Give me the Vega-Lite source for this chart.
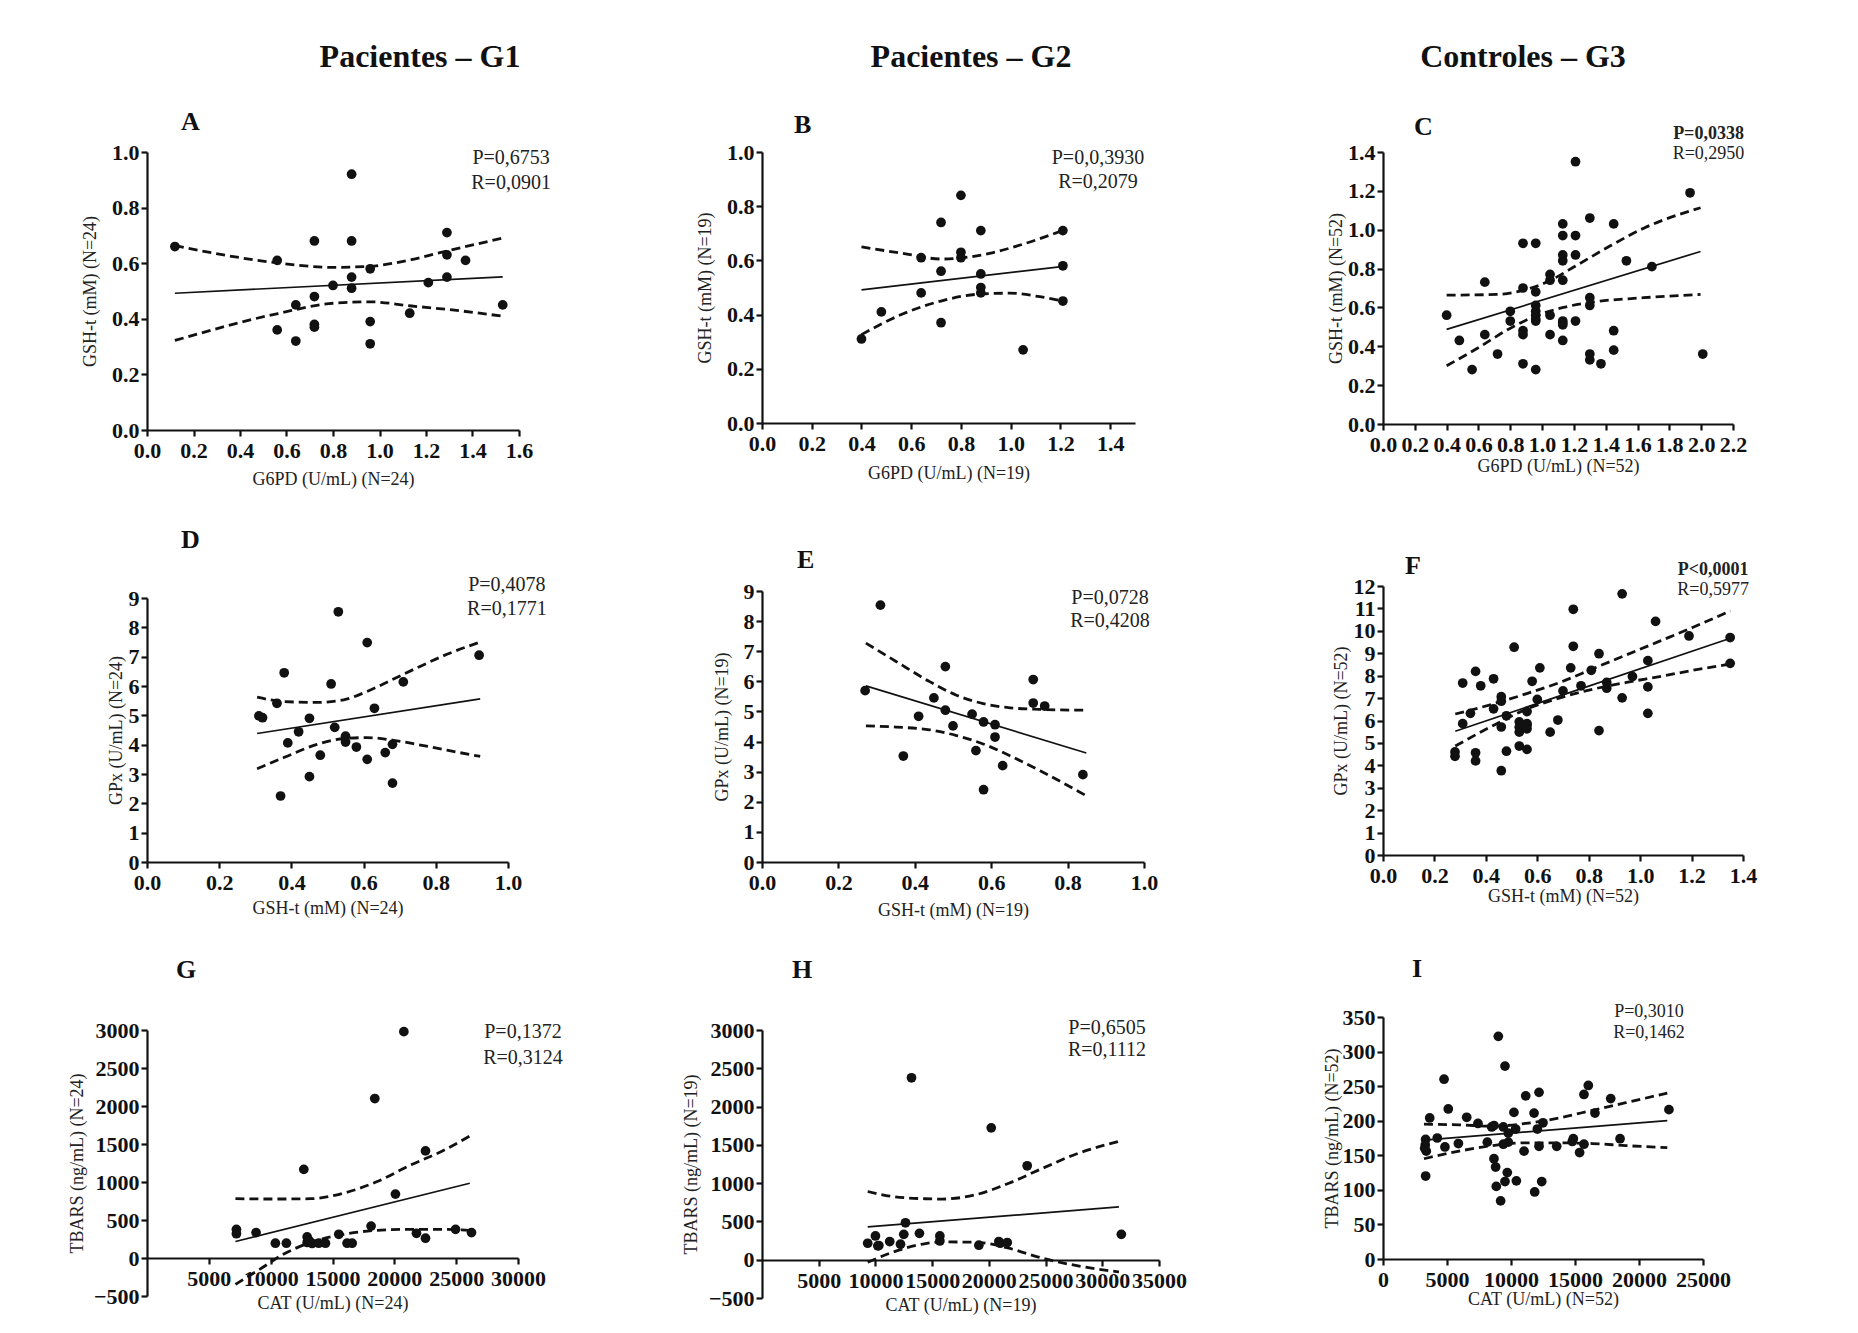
{
"$schema": "https://vega.github.io/schema/vega-lite/v6.json",
"background": "white",
"padding": {"top": 40, "left": 68, "right": 5, "bottom": 5},
"config": {
  "font": "Liberation Serif",
  "view": {"stroke": null},
  "axis": {"domainColor": "#111", "domainWidth": 2.2, "tickColor": "#111", "tickWidth": 2.2, "tickSize": 6,
    "labelFont": "Liberation Serif", "labelFontSize": 22, "labelFontWeight": "bold", "labelColor": "#111", "labelPadding": 2,
    "titleFont": "Liberation Serif", "titleFontSize": 18, "titleFontWeight": "normal", "titleColor": "#222",
    "grid": false, "labelOverlap": false, "labelFlush": false},
  "axisX": {"labelPadding": 4},
  "title": {"font": "Liberation Serif", "fontWeight": "bold", "color": "#111"},
  "text": {"font": "Liberation Serif", "color": "#222", "baseline": "middle", "align": "center"},
  "circle": {"size": 95, "color": "#111", "opacity": 1},
  "line": {"color": "#111"}
},
"datasets": {
  "fit": [
    {"p":"A","x":0.12,"y":0.492},{"p":"A","x":1.53,"y":0.551},
    {"p":"B","x":0.40,"y":0.491},{"p":"B","x":1.214,"y":0.578},
    {"p":"C","x":0.40,"y":0.487},{"p":"C","x":1.996,"y":0.888},
    {"p":"D","x":0.305,"y":4.38},{"p":"D","x":0.923,"y":5.56},
    {"p":"E","x":0.272,"y":5.85},{"p":"E","x":0.849,"y":3.62},
    {"p":"F","x":0.281,"y":5.52},{"p":"F","x":1.351,"y":9.67},
    {"p":"G","x":7150,"y":217},{"p":"G","x":26100,"y":984},
    {"p":"H","x":9320,"y":430},{"p":"H","x":31470,"y":689},
    {"p":"I","x":3200,"y":172},{"p":"I","x":22210,"y":200}
  ],
  "band": [
    {"p":"A","b":"u","x":0.12,"y":0.663},{"p":"A","b":"u","x":0.563,"y":0.601},{"p":"A","b":"u","x":0.80,"y":0.585},{"p":"A","b":"u","x":0.96,"y":0.589},{"p":"A","b":"u","x":1.138,"y":0.613},{"p":"A","b":"u","x":1.29,"y":0.644},{"p":"A","b":"u","x":1.533,"y":0.691},
    {"p":"A","b":"l","x":0.12,"y":0.322},{"p":"A","b":"l","x":0.563,"y":0.419},{"p":"A","b":"l","x":0.80,"y":0.456},{"p":"A","b":"l","x":0.96,"y":0.461},{"p":"A","b":"l","x":1.138,"y":0.446},{"p":"A","b":"l","x":1.29,"y":0.434},{"p":"A","b":"l","x":1.533,"y":0.409},
    {"p":"B","b":"u","x":0.40,"y":0.650},{"p":"B","b":"u","x":0.565,"y":0.626},{"p":"B","b":"u","x":0.723,"y":0.605},{"p":"B","b":"u","x":0.80,"y":0.609},{"p":"B","b":"u","x":0.915,"y":0.626},{"p":"B","b":"u","x":1.05,"y":0.660},{"p":"B","b":"u","x":1.214,"y":0.712},
    {"p":"B","b":"l","x":0.40,"y":0.326},{"p":"B","b":"l","x":0.565,"y":0.402},{"p":"B","b":"l","x":0.723,"y":0.451},{"p":"B","b":"l","x":0.88,"y":0.476},{"p":"B","b":"l","x":0.996,"y":0.479},{"p":"B","b":"l","x":1.117,"y":0.466},{"p":"B","b":"l","x":1.214,"y":0.449},
    {"p":"C","b":"u","x":0.40,"y":0.663},{"p":"C","b":"u","x":0.714,"y":0.667},{"p":"C","b":"u","x":0.882,"y":0.688},{"p":"C","b":"u","x":1.046,"y":0.737},{"p":"C","b":"u","x":1.218,"y":0.817},{"p":"C","b":"u","x":1.429,"y":0.917},{"p":"C","b":"u","x":1.639,"y":1.008},{"p":"C","b":"u","x":1.996,"y":1.113},
    {"p":"C","b":"l","x":0.40,"y":0.30},{"p":"C","b":"l","x":0.588,"y":0.387},{"p":"C","b":"l","x":0.798,"y":0.492},{"p":"C","b":"l","x":0.966,"y":0.558},{"p":"C","b":"l","x":1.134,"y":0.60},{"p":"C","b":"l","x":1.323,"y":0.628},{"p":"C","b":"l","x":1.639,"y":0.65},{"p":"C","b":"l","x":1.996,"y":0.667},
    {"p":"D","b":"u","x":0.305,"y":5.62},{"p":"D","b":"u","x":0.379,"y":5.47},{"p":"D","b":"u","x":0.471,"y":5.44},{"p":"D","b":"u","x":0.545,"y":5.53},{"p":"D","b":"u","x":0.609,"y":5.81},{"p":"D","b":"u","x":0.683,"y":6.24},{"p":"D","b":"u","x":0.748,"y":6.62},{"p":"D","b":"u","x":0.831,"y":7.08},{"p":"D","b":"u","x":0.923,"y":7.50},
    {"p":"D","b":"l","x":0.305,"y":3.18},{"p":"D","b":"l","x":0.379,"y":3.56},{"p":"D","b":"l","x":0.471,"y":4.01},{"p":"D","b":"l","x":0.545,"y":4.21},{"p":"D","b":"l","x":0.609,"y":4.24},{"p":"D","b":"l","x":0.683,"y":4.15},{"p":"D","b":"l","x":0.748,"y":4.01},{"p":"D","b":"l","x":0.831,"y":3.81},{"p":"D","b":"l","x":0.923,"y":3.60},
    {"p":"E","b":"u","x":0.272,"y":7.27},{"p":"E","b":"u","x":0.351,"y":6.66},{"p":"E","b":"u","x":0.439,"y":5.99},{"p":"E","b":"u","x":0.509,"y":5.54},{"p":"E","b":"u","x":0.579,"y":5.26},{"p":"E","b":"u","x":0.649,"y":5.12},{"p":"E","b":"u","x":0.728,"y":5.07},{"p":"E","b":"u","x":0.849,"y":5.04},
    {"p":"E","b":"l","x":0.272,"y":4.52},{"p":"E","b":"l","x":0.351,"y":4.48},{"p":"E","b":"l","x":0.439,"y":4.39},{"p":"E","b":"l","x":0.509,"y":4.20},{"p":"E","b":"l","x":0.579,"y":3.92},{"p":"E","b":"l","x":0.649,"y":3.53},{"p":"E","b":"l","x":0.728,"y":3.03},{"p":"E","b":"l","x":0.849,"y":2.20},
    {"p":"F","b":"u","x":0.281,"y":6.29},{"p":"F","b":"u","x":0.429,"y":6.74},{"p":"F","b":"u","x":0.559,"y":7.20},{"p":"F","b":"u","x":0.688,"y":7.70},{"p":"F","b":"u","x":0.818,"y":8.32},{"p":"F","b":"u","x":0.947,"y":8.93},{"p":"F","b":"u","x":1.076,"y":9.54},{"p":"F","b":"u","x":1.206,"y":10.16},{"p":"F","b":"u","x":1.351,"y":10.89},
    {"p":"F","b":"l","x":0.281,"y":4.86},{"p":"F","b":"l","x":0.429,"y":5.78},{"p":"F","b":"l","x":0.559,"y":6.51},{"p":"F","b":"l","x":0.688,"y":7.01},{"p":"F","b":"l","x":0.818,"y":7.40},{"p":"F","b":"l","x":0.947,"y":7.70},{"p":"F","b":"l","x":1.076,"y":7.96},{"p":"F","b":"l","x":1.206,"y":8.24},{"p":"F","b":"l","x":1.351,"y":8.52},
    {"p":"G","b":"u","x":7150,"y":780},{"p":"G","b":"u","x":10520,"y":776},{"p":"G","b":"u","x":13210,"y":780},{"p":"G","b":"u","x":15910,"y":854},{"p":"G","b":"u","x":18610,"y":1006},{"p":"G","b":"u","x":21300,"y":1222},{"p":"G","b":"u","x":24000,"y":1417},{"p":"G","b":"u","x":26100,"y":1604},
    {"p":"G","b":"l","x":7150,"y":-347},{"p":"G","b":"l","x":9170,"y":-143},{"p":"G","b":"l","x":11060,"y":52},{"p":"G","b":"l","x":13210,"y":204},{"p":"G","b":"l","x":15910,"y":312},{"p":"G","b":"l","x":18610,"y":364},{"p":"G","b":"l","x":21300,"y":377},{"p":"G","b":"l","x":24000,"y":377},{"p":"G","b":"l","x":26100,"y":364},
    {"p":"H","b":"u","x":9320,"y":891},{"p":"H","b":"u","x":11470,"y":826},{"p":"H","b":"u","x":14410,"y":796},{"p":"H","b":"u","x":15880,"y":792},{"p":"H","b":"u","x":18820,"y":848},{"p":"H","b":"u","x":21760,"y":999},{"p":"H","b":"u","x":24710,"y":1192},{"p":"H","b":"u","x":27650,"y":1378},{"p":"H","b":"u","x":31470,"y":1545},
    {"p":"H","b":"l","x":9320,"y":-34},{"p":"H","b":"l","x":11470,"y":95},{"p":"H","b":"l","x":14410,"y":211},{"p":"H","b":"l","x":15880,"y":232},{"p":"H","b":"l","x":18820,"y":228},{"p":"H","b":"l","x":21760,"y":150},{"p":"H","b":"l","x":24710,"y":20},{"p":"H","b":"l","x":27650,"y":-75},{"p":"H","b":"l","x":31470,"y":-160},
    {"p":"I","b":"u","x":3200,"y":195},{"p":"I","b":"u","x":5940,"y":194},{"p":"I","b":"u","x":8540,"y":192},{"p":"I","b":"u","x":11150,"y":196},{"p":"I","b":"u","x":13750,"y":204},{"p":"I","b":"u","x":16350,"y":215},{"p":"I","b":"u","x":18960,"y":226},{"p":"I","b":"u","x":22210,"y":240},
    {"p":"I","b":"l","x":3200,"y":145},{"p":"I","b":"l","x":5940,"y":156},{"p":"I","b":"l","x":8540,"y":164},{"p":"I","b":"l","x":11150,"y":168},{"p":"I","b":"l","x":13750,"y":168},{"p":"I","b":"l","x":16350,"y":167},{"p":"I","b":"l","x":18960,"y":164},{"p":"I","b":"l","x":22210,"y":161}
  ],
  "pts": [
    {"p":"A","x":0.12,"y":0.66},{"p":"A","x":0.56,"y":0.61},{"p":"A","x":0.56,"y":0.36},{"p":"A","x":0.64,"y":0.45},{"p":"A","x":0.64,"y":0.32},{"p":"A","x":0.72,"y":0.68},{"p":"A","x":0.72,"y":0.48},{"p":"A","x":0.72,"y":0.38},{"p":"A","x":0.72,"y":0.37},{"p":"A","x":0.80,"y":0.52},{"p":"A","x":0.88,"y":0.92},{"p":"A","x":0.88,"y":0.68},{"p":"A","x":0.88,"y":0.55},{"p":"A","x":0.88,"y":0.51},{"p":"A","x":0.96,"y":0.58},{"p":"A","x":0.96,"y":0.39},{"p":"A","x":0.96,"y":0.31},{"p":"A","x":1.13,"y":0.42},{"p":"A","x":1.21,"y":0.53},{"p":"A","x":1.29,"y":0.71},{"p":"A","x":1.29,"y":0.63},{"p":"A","x":1.29,"y":0.55},{"p":"A","x":1.37,"y":0.61},{"p":"A","x":1.53,"y":0.45},
    {"p":"B","x":0.40,"y":0.31},{"p":"B","x":0.48,"y":0.41},{"p":"B","x":0.64,"y":0.61},{"p":"B","x":0.64,"y":0.48},{"p":"B","x":0.72,"y":0.74},{"p":"B","x":0.72,"y":0.56},{"p":"B","x":0.72,"y":0.37},{"p":"B","x":0.80,"y":0.84},{"p":"B","x":0.80,"y":0.63},{"p":"B","x":0.80,"y":0.61},{"p":"B","x":0.88,"y":0.71},{"p":"B","x":0.88,"y":0.55},{"p":"B","x":0.88,"y":0.50},{"p":"B","x":0.88,"y":0.48},{"p":"B","x":1.05,"y":0.27},{"p":"B","x":1.21,"y":0.71},{"p":"B","x":1.21,"y":0.58},{"p":"B","x":1.21,"y":0.45},
    {"p":"C","x":0.40,"y":0.56},{"p":"C","x":0.48,"y":0.43},{"p":"C","x":0.56,"y":0.28},{"p":"C","x":0.64,"y":0.73},{"p":"C","x":0.64,"y":0.46},{"p":"C","x":0.72,"y":0.36},{"p":"C","x":0.80,"y":0.58},{"p":"C","x":0.80,"y":0.53},{"p":"C","x":0.88,"y":0.93},{"p":"C","x":0.88,"y":0.70},{"p":"C","x":0.88,"y":0.48},{"p":"C","x":0.88,"y":0.46},{"p":"C","x":0.88,"y":0.31},{"p":"C","x":0.96,"y":0.93},{"p":"C","x":0.96,"y":0.68},{"p":"C","x":0.96,"y":0.61},{"p":"C","x":0.96,"y":0.58},{"p":"C","x":0.96,"y":0.56},{"p":"C","x":0.96,"y":0.53},{"p":"C","x":0.96,"y":0.28},{"p":"C","x":1.05,"y":0.77},{"p":"C","x":1.05,"y":0.74},{"p":"C","x":1.05,"y":0.56},{"p":"C","x":1.05,"y":0.46},{"p":"C","x":1.13,"y":1.03},{"p":"C","x":1.13,"y":0.97},{"p":"C","x":1.13,"y":0.87},{"p":"C","x":1.13,"y":0.84},{"p":"C","x":1.13,"y":0.74},{"p":"C","x":1.13,"y":0.53},{"p":"C","x":1.13,"y":0.51},{"p":"C","x":1.13,"y":0.43},{"p":"C","x":1.21,"y":1.35},{"p":"C","x":1.21,"y":0.97},{"p":"C","x":1.21,"y":0.87},{"p":"C","x":1.21,"y":0.53},{"p":"C","x":1.30,"y":1.06},{"p":"C","x":1.30,"y":0.65},{"p":"C","x":1.30,"y":0.61},{"p":"C","x":1.30,"y":0.36},{"p":"C","x":1.30,"y":0.33},{"p":"C","x":1.37,"y":0.31},{"p":"C","x":1.45,"y":1.03},{"p":"C","x":1.45,"y":0.48},{"p":"C","x":1.45,"y":0.38},{"p":"C","x":1.53,"y":0.84},{"p":"C","x":1.69,"y":0.81},{"p":"C","x":1.93,"y":1.19},{"p":"C","x":2.01,"y":0.36},{"p":"C","x":0.96,"y":0.54},{"p":"C","x":1.13,"y":0.52},
    {"p":"D","x":0.31,"y":4.98},{"p":"D","x":0.32,"y":4.92},{"p":"D","x":0.36,"y":5.41},{"p":"D","x":0.38,"y":6.45},{"p":"D","x":0.37,"y":2.25},{"p":"D","x":0.39,"y":4.06},{"p":"D","x":0.42,"y":4.44},{"p":"D","x":0.45,"y":4.90},{"p":"D","x":0.45,"y":2.91},{"p":"D","x":0.48,"y":3.64},{"p":"D","x":0.51,"y":6.07},{"p":"D","x":0.52,"y":4.59},{"p":"D","x":0.53,"y":8.53},{"p":"D","x":0.55,"y":4.29},{"p":"D","x":0.55,"y":4.09},{"p":"D","x":0.58,"y":3.92},{"p":"D","x":0.61,"y":3.50},{"p":"D","x":0.61,"y":7.48},{"p":"D","x":0.63,"y":5.24},{"p":"D","x":0.66,"y":3.73},{"p":"D","x":0.68,"y":4.01},{"p":"D","x":0.68,"y":2.69},{"p":"D","x":0.71,"y":6.14},{"p":"D","x":0.92,"y":7.05},
    {"p":"E","x":0.27,"y":5.69},{"p":"E","x":0.31,"y":8.53},{"p":"E","x":0.37,"y":3.52},{"p":"E","x":0.41,"y":4.84},{"p":"E","x":0.45,"y":5.45},{"p":"E","x":0.48,"y":6.49},{"p":"E","x":0.48,"y":5.04},{"p":"E","x":0.50,"y":4.52},{"p":"E","x":0.55,"y":4.91},{"p":"E","x":0.56,"y":3.70},{"p":"E","x":0.58,"y":4.65},{"p":"E","x":0.58,"y":2.40},{"p":"E","x":0.61,"y":4.56},{"p":"E","x":0.61,"y":4.15},{"p":"E","x":0.63,"y":3.20},{"p":"E","x":0.71,"y":6.06},{"p":"E","x":0.71,"y":5.28},{"p":"E","x":0.74,"y":5.18},{"p":"E","x":0.84,"y":2.90},
    {"p":"F","x":0.28,"y":4.60},{"p":"F","x":0.28,"y":4.40},{"p":"F","x":0.31,"y":7.67},{"p":"F","x":0.31,"y":5.86},{"p":"F","x":0.34,"y":6.32},{"p":"F","x":0.36,"y":8.19},{"p":"F","x":0.36,"y":4.56},{"p":"F","x":0.36,"y":4.20},{"p":"F","x":0.38,"y":7.55},{"p":"F","x":0.43,"y":7.86},{"p":"F","x":0.43,"y":6.52},{"p":"F","x":0.46,"y":7.06},{"p":"F","x":0.46,"y":6.86},{"p":"F","x":0.46,"y":5.71},{"p":"F","x":0.46,"y":3.76},{"p":"F","x":0.48,"y":6.21},{"p":"F","x":0.48,"y":4.63},{"p":"F","x":0.51,"y":9.27},{"p":"F","x":0.53,"y":5.94},{"p":"F","x":0.53,"y":5.48},{"p":"F","x":0.53,"y":4.86},{"p":"F","x":0.56,"y":6.40},{"p":"F","x":0.56,"y":5.86},{"p":"F","x":0.56,"y":5.63},{"p":"F","x":0.56,"y":4.71},{"p":"F","x":0.58,"y":7.75},{"p":"F","x":0.60,"y":6.94},{"p":"F","x":0.61,"y":8.35},{"p":"F","x":0.65,"y":5.48},{"p":"F","x":0.68,"y":6.02},{"p":"F","x":0.70,"y":7.32},{"p":"F","x":0.73,"y":8.35},{"p":"F","x":0.74,"y":9.31},{"p":"F","x":0.74,"y":10.96},{"p":"F","x":0.77,"y":7.55},{"p":"F","x":0.81,"y":8.24},{"p":"F","x":0.84,"y":8.98},{"p":"F","x":0.84,"y":5.55},{"p":"F","x":0.87,"y":7.70},{"p":"F","x":0.87,"y":7.44},{"p":"F","x":0.93,"y":11.65},{"p":"F","x":0.93,"y":7.01},{"p":"F","x":0.97,"y":7.96},{"p":"F","x":1.03,"y":8.67},{"p":"F","x":1.03,"y":7.50},{"p":"F","x":1.03,"y":6.32},{"p":"F","x":1.06,"y":10.42},{"p":"F","x":1.19,"y":9.77},{"p":"F","x":1.35,"y":9.70},{"p":"F","x":1.35,"y":8.55},{"p":"F","x":0.53,"y":5.70},{"p":"F","x":0.56,"y":5.80},
    {"p":"G","x":7230,"y":377},{"p":"G","x":7230,"y":320},{"p":"G","x":8820,"y":334},{"p":"G","x":10380,"y":195},{"p":"G","x":11270,"y":195},{"p":"G","x":12680,"y":1166},{"p":"G","x":12950,"y":277},{"p":"G","x":12950,"y":204},{"p":"G","x":13350,"y":191},{"p":"G","x":13890,"y":195},{"p":"G","x":14430,"y":195},{"p":"G","x":15510,"y":312},{"p":"G","x":16180,"y":195},{"p":"G","x":16590,"y":195},{"p":"G","x":18120,"y":420},{"p":"G","x":18420,"y":2098},{"p":"G","x":20090,"y":841},{"p":"G","x":20770,"y":2978},{"p":"G","x":21790,"y":325},{"p":"G","x":22520,"y":260},{"p":"G","x":22520,"y":1409},{"p":"G","x":24950,"y":377},{"p":"G","x":26240,"y":334},{"p":"G","x":13100,"y":230},
    {"p":"H","x":9320,"y":215},{"p":"H","x":10000,"y":310},{"p":"H","x":10210,"y":181},{"p":"H","x":11260,"y":237},{"p":"H","x":12210,"y":202},{"p":"H","x":12500,"y":331},{"p":"H","x":12650,"y":482},{"p":"H","x":13180,"y":2376},{"p":"H","x":13880,"y":344},{"p":"H","x":15680,"y":310},{"p":"H","x":15680,"y":245},{"p":"H","x":19120,"y":189},{"p":"H","x":20210,"y":1722},{"p":"H","x":20880,"y":237},{"p":"H","x":21620,"y":224},{"p":"H","x":23380,"y":1227},{"p":"H","x":31680,"y":331},{"p":"H","x":21000,"y":215},{"p":"H","x":10300,"y":185},
    {"p":"I","x":3260,"y":160},{"p":"I","x":3330,"y":173},{"p":"I","x":3380,"y":156},{"p":"I","x":3330,"y":120},{"p":"I","x":3650,"y":204},{"p":"I","x":4240,"y":175},{"p":"I","x":4770,"y":260},{"p":"I","x":4840,"y":162},{"p":"I","x":5100,"y":217},{"p":"I","x":5890,"y":167},{"p":"I","x":6540,"y":205},{"p":"I","x":7420,"y":196},{"p":"I","x":8150,"y":169},{"p":"I","x":8490,"y":191},{"p":"I","x":8670,"y":193},{"p":"I","x":8670,"y":145},{"p":"I","x":8800,"y":133},{"p":"I","x":8850,"y":105},{"p":"I","x":9010,"y":322},{"p":"I","x":9190,"y":84},{"p":"I","x":9530,"y":279},{"p":"I","x":9530,"y":112},{"p":"I","x":9400,"y":191},{"p":"I","x":9710,"y":125},{"p":"I","x":9790,"y":182},{"p":"I","x":9790,"y":169},{"p":"I","x":9400,"y":166},{"p":"I","x":10230,"y":212},{"p":"I","x":10360,"y":188},{"p":"I","x":10420,"y":113},{"p":"I","x":11020,"y":156},{"p":"I","x":11150,"y":236},{"p":"I","x":11800,"y":211},{"p":"I","x":11850,"y":97},{"p":"I","x":12060,"y":188},{"p":"I","x":12190,"y":163},{"p":"I","x":12190,"y":241},{"p":"I","x":12400,"y":112},{"p":"I","x":12500,"y":197},{"p":"I","x":13570,"y":163},{"p":"I","x":14790,"y":170},{"p":"I","x":14870,"y":174},{"p":"I","x":15360,"y":154},{"p":"I","x":15700,"y":238},{"p":"I","x":15700,"y":166},{"p":"I","x":16040,"y":251},{"p":"I","x":16560,"y":211},{"p":"I","x":17790,"y":232},{"p":"I","x":18520,"y":174},{"p":"I","x":22340,"y":216},{"p":"I","x":3300,"y":165}
  ]
},
"spacing": 119,
"hconcat": [
 {
  "title": {"text": "Pacientes – G1", "fontSize": 32, "anchor": "middle", "frame": "group", "dx": 273, "offset": 35},
  "bounds": "flush", "spacing": 168,
  "vconcat": [
   {
    "width": 372, "height": 278,
    "title": {"text": "A", "fontSize": 26, "anchor": "start", "frame": "group", "dx": 34, "offset": 6.5},
    "layer": [
      {"encoding": {
        "x": {"field": "x", "type": "quantitative", "scale": {"domain": [0, 1.6], "nice": false, "zero": false}, "axis": {"values": [0,0.2,0.4,0.6,0.8,1,1.2,1.4,1.6], "format": ".1f", "title": "G6PD (U/mL)  (N=24)", "titlePadding": 9}},
        "y": {"field": "y", "type": "quantitative", "scale": {"domain": [0, 1], "nice": false, "zero": false}, "axis": {"values": [0,0.2,0.4,0.6,0.8,1], "format": ".1f", "title": "GSH-t (mM)  (N=24)", "titlePadding": 12}}},
       "layer": [
        {"data": {"name": "band"}, "transform": [{"filter": "datum.p == 'A'"}], "mark": {"type": "line", "strokeDash": [9,5], "strokeWidth": 2.8, "interpolate": "monotone"}, "encoding": {"detail": {"field": "b", "type": "nominal"}}},
        {"data": {"name": "fit"}, "transform": [{"filter": "datum.p == 'A'"}], "mark": {"type": "line", "strokeWidth": 1.7}, "encoding": {}},
        {"data": {"name": "pts"}, "transform": [{"filter": "datum.p == 'A'"}], "mark": {"type": "circle"}, "encoding": {}}
       ]},
      {"data": {"values": [{"t": "P=0,6753"}]}, "mark": {"type": "text", "fontSize": 20}, "encoding": {
        "x": {"datum": 1.566, "type": "quantitative", "axis": {"values": [0,0.2,0.4,0.6,0.8,1,1.2,1.4,1.6], "format": ".1f", "title": "G6PD (U/mL)  (N=24)", "titlePadding": 9}},
        "y": {"datum": 0.978, "type": "quantitative", "axis": {"values": [0,0.2,0.4,0.6,0.8,1], "format": ".1f", "title": "GSH-t (mM)  (N=24)", "titlePadding": 12}},
        "text": {"field": "t", "type": "nominal"}}},
      {"data": {"values": [{"t": "R=0,0901"}]}, "mark": {"type": "text", "fontSize": 20}, "encoding": {
        "x": {"datum": 1.566, "type": "quantitative", "axis": {"values": [0,0.2,0.4,0.6,0.8,1,1.2,1.4,1.6], "format": ".1f", "title": "G6PD (U/mL)  (N=24)", "titlePadding": 9}},
        "y": {"datum": 0.888, "type": "quantitative", "axis": {"values": [0,0.2,0.4,0.6,0.8,1], "format": ".1f", "title": "GSH-t (mM)  (N=24)", "titlePadding": 12}},
        "text": {"field": "t", "type": "nominal"}}}
    ]
   },
   {
    "width": 361, "height": 264,
    "title": {"text": "D", "fontSize": 26, "anchor": "start", "frame": "group", "dx": 34, "offset": 22.5},
    "layer": [
      {"encoding": {
        "x": {"field": "x", "type": "quantitative", "scale": {"domain": [0, 1], "nice": false, "zero": false}, "axis": {"values": [0,0.2,0.4,0.6,0.8,1], "format": ".1f", "title": "GSH-t (mM)  (N=24)", "titlePadding": 6}},
        "y": {"field": "y", "type": "quantitative", "scale": {"domain": [0, 9], "nice": false, "zero": false}, "axis": {"values": [0,1,2,3,4,5,6,7,8,9], "format": "d", "title": "GPx (U/mL)  (N=24)", "titlePadding": 3}}},
       "layer": [
        {"data": {"name": "band"}, "transform": [{"filter": "datum.p == 'D'"}], "mark": {"type": "line", "strokeDash": [9,5], "strokeWidth": 2.8, "interpolate": "monotone"}, "encoding": {"detail": {"field": "b", "type": "nominal"}}},
        {"data": {"name": "fit"}, "transform": [{"filter": "datum.p == 'D'"}], "mark": {"type": "line", "strokeWidth": 1.7}, "encoding": {}},
        {"data": {"name": "pts"}, "transform": [{"filter": "datum.p == 'D'"}], "mark": {"type": "circle"}, "encoding": {}}
       ]},
      {"data": {"values": [{"t": "P=0,4078"}]}, "mark": {"type": "text", "fontSize": 20}, "encoding": {
        "x": {"datum": 0.997, "type": "quantitative", "axis": {"values": [0,0.2,0.4,0.6,0.8,1], "format": ".1f", "title": "GSH-t (mM)  (N=24)", "titlePadding": 6}},
        "y": {"datum": 9.44, "type": "quantitative", "axis": {"values": [0,1,2,3,4,5,6,7,8,9], "format": "d", "title": "GPx (U/mL)  (N=24)", "titlePadding": 3}},
        "text": {"field": "t", "type": "nominal"}}},
      {"data": {"values": [{"t": "R=0,1771"}]}, "mark": {"type": "text", "fontSize": 20}, "encoding": {
        "x": {"datum": 0.997, "type": "quantitative", "axis": {"values": [0,0.2,0.4,0.6,0.8,1], "format": ".1f", "title": "GSH-t (mM)  (N=24)", "titlePadding": 6}},
        "y": {"datum": 8.63, "type": "quantitative", "axis": {"values": [0,1,2,3,4,5,6,7,8,9], "format": "d", "title": "GPx (U/mL)  (N=24)", "titlePadding": 3}},
        "text": {"field": "t", "type": "nominal"}}}
    ]
   },
   {
    "width": 371, "height": 266,
    "title": {"text": "G", "fontSize": 26, "anchor": "start", "frame": "group", "dx": 29, "offset": 36.5},
    "layer": [
      {"encoding": {
        "x": {"field": "x", "type": "quantitative", "scale": {"domain": [0, 30000], "nice": false, "zero": false}, "axis": {"values": [5000,10000,15000,20000,25000,30000], "format": "d", "offset": -38, "title": "CAT (U/mL)  (N=24)", "titlePadding": 5}},
        "y": {"field": "y", "type": "quantitative", "scale": {"domain": [-500, 3000], "nice": false, "zero": false}, "axis": {"values": [-500,0,500,1000,1500,2000,2500,3000], "format": "d", "title": "TBARS (ng/mL)  (N=24)", "titlePadding": 7}}},
       "layer": [
        {"data": {"name": "band"}, "transform": [{"filter": "datum.p == 'G'"}], "mark": {"type": "line", "strokeDash": [9,5], "strokeWidth": 2.8, "interpolate": "monotone"}, "encoding": {"detail": {"field": "b", "type": "nominal"}}},
        {"data": {"name": "fit"}, "transform": [{"filter": "datum.p == 'G'"}], "mark": {"type": "line", "strokeWidth": 1.7}, "encoding": {}},
        {"data": {"name": "pts"}, "transform": [{"filter": "datum.p == 'G'"}], "mark": {"type": "circle"}, "encoding": {}}
       ]},
      {"data": {"values": [{"t": "P=0,1372"}]}, "mark": {"type": "text", "fontSize": 20}, "encoding": {
        "x": {"datum": 30400, "type": "quantitative", "axis": {"values": [5000,10000,15000,20000,25000,30000], "format": "d", "offset": -38, "title": "CAT (U/mL)  (N=24)", "titlePadding": 5}},
        "y": {"datum": 2974, "type": "quantitative", "axis": {"values": [-500,0,500,1000,1500,2000,2500,3000], "format": "d", "title": "TBARS (ng/mL)  (N=24)", "titlePadding": 7}},
        "text": {"field": "t", "type": "nominal"}}},
      {"data": {"values": [{"t": "R=0,3124"}]}, "mark": {"type": "text", "fontSize": 20}, "encoding": {
        "x": {"datum": 30400, "type": "quantitative", "axis": {"values": [5000,10000,15000,20000,25000,30000], "format": "d", "offset": -38, "title": "CAT (U/mL)  (N=24)", "titlePadding": 5}},
        "y": {"datum": 2632, "type": "quantitative", "axis": {"values": [-500,0,500,1000,1500,2000,2500,3000], "format": "d", "title": "TBARS (ng/mL)  (N=24)", "titlePadding": 7}},
        "text": {"field": "t", "type": "nominal"}}}
    ]
   }
  ]
 },
 {
  "spacing": 136,
  "hconcat": [
   {
    "title": {"text": "Pacientes – G2", "fontSize": 32, "anchor": "middle", "frame": "group", "dx": 209, "offset": 38},
    "bounds": "flush", "spacing": 168,
    "vconcat": [
     {
      "width": 373, "height": 271,
      "title": {"text": "B", "fontSize": 26, "anchor": "start", "frame": "group", "dx": 32, "offset": 3.5},
      "layer": [
        {"encoding": {
          "x": {"field": "x", "type": "quantitative", "scale": {"domain": [0, 1.5], "nice": false, "zero": false}, "axis": {"values": [0,0.2,0.4,0.6,0.8,1,1.2,1.4], "format": ".1f", "title": "G6PD (U/mL)  (N=19)", "titlePadding": 10}},
          "y": {"field": "y", "type": "quantitative", "scale": {"domain": [0, 1], "nice": false, "zero": false}, "axis": {"values": [0,0.2,0.4,0.6,0.8,1], "format": ".1f", "title": "GSH-t (mM)  (N=19)", "titlePadding": 12}}},
         "layer": [
          {"data": {"name": "band"}, "transform": [{"filter": "datum.p == 'B'"}], "mark": {"type": "line", "strokeDash": [9,5], "strokeWidth": 2.8, "interpolate": "monotone"}, "encoding": {"detail": {"field": "b", "type": "nominal"}}},
          {"data": {"name": "fit"}, "transform": [{"filter": "datum.p == 'B'"}], "mark": {"type": "line", "strokeWidth": 1.7}, "encoding": {}},
          {"data": {"name": "pts"}, "transform": [{"filter": "datum.p == 'B'"}], "mark": {"type": "circle"}, "encoding": {}}
         ]},
        {"data": {"values": [{"t": "P=0,0,3930"}]}, "mark": {"type": "text", "fontSize": 20}, "encoding": {
          "x": {"datum": 1.351, "type": "quantitative", "axis": {"values": [0,0.2,0.4,0.6,0.8,1,1.2,1.4], "format": ".1f", "title": "G6PD (U/mL)  (N=19)", "titlePadding": 10}},
          "y": {"datum": 0.978, "type": "quantitative", "axis": {"values": [0,0.2,0.4,0.6,0.8,1], "format": ".1f", "title": "GSH-t (mM)  (N=19)", "titlePadding": 12}},
          "text": {"field": "t", "type": "nominal"}}},
        {"data": {"values": [{"t": "R=0,2079"}]}, "mark": {"type": "text", "fontSize": 20}, "encoding": {
          "x": {"datum": 1.351, "type": "quantitative", "axis": {"values": [0,0.2,0.4,0.6,0.8,1,1.2,1.4], "format": ".1f", "title": "G6PD (U/mL)  (N=19)", "titlePadding": 10}},
          "y": {"datum": 0.889, "type": "quantitative", "axis": {"values": [0,0.2,0.4,0.6,0.8,1], "format": ".1f", "title": "GSH-t (mM)  (N=19)", "titlePadding": 12}},
          "text": {"field": "t", "type": "nominal"}}}
      ]
     },
     {
      "width": 382, "height": 271,
      "title": {"text": "E", "fontSize": 26, "anchor": "start", "frame": "group", "dx": 35, "offset": 7.5},
      "layer": [
        {"encoding": {
          "x": {"field": "x", "type": "quantitative", "scale": {"domain": [0, 1], "nice": false, "zero": false}, "axis": {"values": [0,0.2,0.4,0.6,0.8,1], "format": ".1f", "title": "GSH-t (mM)  (N=19)", "titlePadding": 8}},
          "y": {"field": "y", "type": "quantitative", "scale": {"domain": [0, 9], "nice": false, "zero": false}, "axis": {"values": [0,1,2,3,4,5,6,7,8,9], "format": "d", "title": "GPx (U/mL)  (N=19)", "titlePadding": 12}}},
         "layer": [
          {"data": {"name": "band"}, "transform": [{"filter": "datum.p == 'E'"}], "mark": {"type": "line", "strokeDash": [9,5], "strokeWidth": 2.8, "interpolate": "monotone"}, "encoding": {"detail": {"field": "b", "type": "nominal"}}},
          {"data": {"name": "fit"}, "transform": [{"filter": "datum.p == 'E'"}], "mark": {"type": "line", "strokeWidth": 1.7}, "encoding": {}},
          {"data": {"name": "pts"}, "transform": [{"filter": "datum.p == 'E'"}], "mark": {"type": "circle"}, "encoding": {}}
         ]},
        {"data": {"values": [{"t": "P=0,0728"}]}, "mark": {"type": "text", "fontSize": 20}, "encoding": {
          "x": {"datum": 0.911, "type": "quantitative", "axis": {"values": [0,0.2,0.4,0.6,0.8,1], "format": ".1f", "title": "GSH-t (mM)  (N=19)", "titlePadding": 8}},
          "y": {"datum": 8.77, "type": "quantitative", "axis": {"values": [0,1,2,3,4,5,6,7,8,9], "format": "d", "title": "GPx (U/mL)  (N=19)", "titlePadding": 12}},
          "text": {"field": "t", "type": "nominal"}}},
        {"data": {"values": [{"t": "R=0,4208"}]}, "mark": {"type": "text", "fontSize": 20}, "encoding": {
          "x": {"datum": 0.911, "type": "quantitative", "axis": {"values": [0,0.2,0.4,0.6,0.8,1], "format": ".1f", "title": "GSH-t (mM)  (N=19)", "titlePadding": 8}},
          "y": {"datum": 8.01, "type": "quantitative", "axis": {"values": [0,1,2,3,4,5,6,7,8,9], "format": "d", "title": "GPx (U/mL)  (N=19)", "titlePadding": 12}},
          "text": {"field": "t", "type": "nominal"}}}
      ]
     },
     {
      "width": 397, "height": 268,
      "title": {"text": "H", "fontSize": 26, "anchor": "start", "frame": "group", "dx": 30, "offset": 35.5},
      "layer": [
        {"encoding": {
          "x": {"field": "x", "type": "quantitative", "scale": {"domain": [0, 35000], "nice": false, "zero": false}, "axis": {"values": [5000,10000,15000,20000,25000,30000,35000], "format": "d", "offset": -38, "title": "CAT (U/mL)  (N=19)", "titlePadding": 5}},
          "y": {"field": "y", "type": "quantitative", "scale": {"domain": [-500, 3000], "nice": false, "zero": false}, "axis": {"values": [-500,0,500,1000,1500,2000,2500,3000], "format": "d", "title": "TBARS (ng/mL)  (N=19)", "titlePadding": 8}}},
         "layer": [
          {"data": {"name": "band"}, "transform": [{"filter": "datum.p == 'H'"}], "mark": {"type": "line", "strokeDash": [9,5], "strokeWidth": 2.8, "interpolate": "monotone"}, "encoding": {"detail": {"field": "b", "type": "nominal"}}},
          {"data": {"name": "fit"}, "transform": [{"filter": "datum.p == 'H'"}], "mark": {"type": "line", "strokeWidth": 1.7}, "encoding": {}},
          {"data": {"name": "pts"}, "transform": [{"filter": "datum.p == 'H'"}], "mark": {"type": "circle"}, "encoding": {}}
         ]},
        {"data": {"values": [{"t": "P=0,6505"}]}, "mark": {"type": "text", "fontSize": 20}, "encoding": {
          "x": {"datum": 30415, "type": "quantitative", "axis": {"values": [5000,10000,15000,20000,25000,30000,35000], "format": "d", "offset": -38, "title": "CAT (U/mL)  (N=19)", "titlePadding": 5}},
          "y": {"datum": 3026, "type": "quantitative", "axis": {"values": [-500,0,500,1000,1500,2000,2500,3000], "format": "d", "title": "TBARS (ng/mL)  (N=19)", "titlePadding": 8}},
          "text": {"field": "t", "type": "nominal"}}},
        {"data": {"values": [{"t": "R=0,1112"}]}, "mark": {"type": "text", "fontSize": 20}, "encoding": {
          "x": {"datum": 30415, "type": "quantitative", "axis": {"values": [5000,10000,15000,20000,25000,30000,35000], "format": "d", "offset": -38, "title": "CAT (U/mL)  (N=19)", "titlePadding": 5}},
          "y": {"datum": 2739, "type": "quantitative", "axis": {"values": [-500,0,500,1000,1500,2000,2500,3000], "format": "d", "title": "TBARS (ng/mL)  (N=19)", "titlePadding": 8}},
          "text": {"field": "t", "type": "nominal"}}}
      ]
     }
    ]
   },
   {
    "title": {"text": "Controles – G3", "fontSize": 32, "anchor": "middle", "frame": "group", "dx": 140, "offset": 40},
    "bounds": "flush", "spacing": 162,
    "vconcat": [
     {
      "width": 350, "height": 272,
      "title": {"text": "C", "fontSize": 26, "anchor": "start", "frame": "group", "dx": 31, "offset": -15},
      "layer": [
        {"encoding": {
          "x": {"field": "x", "type": "quantitative", "scale": {"domain": [0, 2.2], "nice": false, "zero": false}, "axis": {"values": [0,0.2,0.4,0.6,0.8,1,1.2,1.4,1.6,1.8,2,2.2], "format": ".1f", "title": "G6PD (U/mL)  (N=52)", "titlePadding": 2}},
          "y": {"field": "y", "type": "quantitative", "scale": {"domain": [0, 1.4], "nice": false, "zero": false}, "axis": {"values": [0,0.2,0.4,0.6,0.8,1,1.2,1.4], "format": ".1f", "title": "GSH-t (mM)  (N=52)", "titlePadding": 2}}},
         "layer": [
          {"data": {"name": "band"}, "transform": [{"filter": "datum.p == 'C'"}], "mark": {"type": "line", "strokeDash": [9,5], "strokeWidth": 2.8, "interpolate": "monotone"}, "encoding": {"detail": {"field": "b", "type": "nominal"}}},
          {"data": {"name": "fit"}, "transform": [{"filter": "datum.p == 'C'"}], "mark": {"type": "line", "strokeWidth": 1.7}, "encoding": {}},
          {"data": {"name": "pts"}, "transform": [{"filter": "datum.p == 'C'"}], "mark": {"type": "circle"}, "encoding": {}}
         ]},
        {"data": {"values": [{"t": "P=0,0338"}]}, "mark": {"type": "text", "fontSize": 18, "fontWeight": "bold"}, "encoding": {
          "x": {"datum": 2.046, "type": "quantitative", "axis": {"values": [0,0.2,0.4,0.6,0.8,1,1.2,1.4,1.6,1.8,2,2.2], "format": ".1f", "title": "G6PD (U/mL)  (N=52)", "titlePadding": 2}},
          "y": {"datum": 1.494, "type": "quantitative", "axis": {"values": [0,0.2,0.4,0.6,0.8,1,1.2,1.4], "format": ".1f", "title": "GSH-t (mM)  (N=52)", "titlePadding": 2}},
          "text": {"field": "t", "type": "nominal"}}},
        {"data": {"values": [{"t": "R=0,2950"}]}, "mark": {"type": "text", "fontSize": 18}, "encoding": {
          "x": {"datum": 2.046, "type": "quantitative", "axis": {"values": [0,0.2,0.4,0.6,0.8,1,1.2,1.4,1.6,1.8,2,2.2], "format": ".1f", "title": "G6PD (U/mL)  (N=52)", "titlePadding": 2}},
          "y": {"datum": 1.388, "type": "quantitative", "axis": {"values": [0,0.2,0.4,0.6,0.8,1,1.2,1.4], "format": ".1f", "title": "GSH-t (mM)  (N=52)", "titlePadding": 2}},
          "text": {"field": "t", "type": "nominal"}}}
      ]
     },
     {
      "width": 360, "height": 269,
      "title": {"text": "F", "fontSize": 26, "anchor": "start", "frame": "group", "dx": 22, "offset": -17.5},
      "layer": [
        {"encoding": {
          "x": {"field": "x", "type": "quantitative", "scale": {"domain": [0, 1.4], "nice": false, "zero": false}, "axis": {"values": [0,0.2,0.4,0.6,0.8,1,1.2,1.4], "format": ".1f", "title": "GSH-t (mM)  (N=52)", "titlePadding": 1}},
          "y": {"field": "y", "type": "quantitative", "scale": {"domain": [0, 12], "nice": false, "zero": false}, "axis": {"values": [0,1,2,3,4,5,6,7,8,9,10,11,12], "format": "d", "title": "GPx (U/mL)  (N=52)", "titlePadding": 3}}},
         "layer": [
          {"data": {"name": "band"}, "transform": [{"filter": "datum.p == 'F'"}], "mark": {"type": "line", "strokeDash": [9,5], "strokeWidth": 2.8, "interpolate": "monotone"}, "encoding": {"detail": {"field": "b", "type": "nominal"}}},
          {"data": {"name": "fit"}, "transform": [{"filter": "datum.p == 'F'"}], "mark": {"type": "line", "strokeWidth": 1.7}, "encoding": {}},
          {"data": {"name": "pts"}, "transform": [{"filter": "datum.p == 'F'"}], "mark": {"type": "circle"}, "encoding": {}}
         ]},
        {"data": {"values": [{"t": "P<0,0001"}]}, "mark": {"type": "text", "fontSize": 18, "fontWeight": "bold"}, "encoding": {
          "x": {"datum": 1.284, "type": "quantitative", "axis": {"values": [0,0.2,0.4,0.6,0.8,1,1.2,1.4], "format": ".1f", "title": "GSH-t (mM)  (N=52)", "titlePadding": 1}},
          "y": {"datum": 12.71, "type": "quantitative", "axis": {"values": [0,1,2,3,4,5,6,7,8,9,10,11,12], "format": "d", "title": "GPx (U/mL)  (N=52)", "titlePadding": 3}},
          "text": {"field": "t", "type": "nominal"}}},
        {"data": {"values": [{"t": "R=0,5977"}]}, "mark": {"type": "text", "fontSize": 18}, "encoding": {
          "x": {"datum": 1.284, "type": "quantitative", "axis": {"values": [0,0.2,0.4,0.6,0.8,1,1.2,1.4], "format": ".1f", "title": "GSH-t (mM)  (N=52)", "titlePadding": 1}},
          "y": {"datum": 11.82, "type": "quantitative", "axis": {"values": [0,1,2,3,4,5,6,7,8,9,10,11,12], "format": "d", "title": "GPx (U/mL)  (N=52)", "titlePadding": 3}},
          "text": {"field": "t", "type": "nominal"}}}
      ]
     },
     {
      "width": 320, "height": 242,
      "title": {"text": "I", "fontSize": 26, "anchor": "start", "frame": "group", "dx": 29, "offset": 21.5},
      "layer": [
        {"encoding": {
          "x": {"field": "x", "type": "quantitative", "scale": {"domain": [0, 25000], "nice": false, "zero": false}, "axis": {"values": [0,5000,10000,15000,20000,25000], "format": "d", "title": "CAT (U/mL)  (N=52)", "titlePadding": 0}},
          "y": {"field": "y", "type": "quantitative", "scale": {"domain": [0, 350], "nice": false, "zero": false}, "axis": {"values": [0,50,100,150,200,250,300,350], "format": "d", "title": "TBARS (ng/mL)  (N=52)", "titlePadding": 1}}},
         "layer": [
          {"data": {"name": "band"}, "transform": [{"filter": "datum.p == 'I'"}], "mark": {"type": "line", "strokeDash": [9,5], "strokeWidth": 2.8, "interpolate": "monotone"}, "encoding": {"detail": {"field": "b", "type": "nominal"}}},
          {"data": {"name": "fit"}, "transform": [{"filter": "datum.p == 'I'"}], "mark": {"type": "line", "strokeWidth": 1.7}, "encoding": {}},
          {"data": {"name": "pts"}, "transform": [{"filter": "datum.p == 'I'"}], "mark": {"type": "circle"}, "encoding": {}}
         ]},
        {"data": {"values": [{"t": "P=0,3010"}]}, "mark": {"type": "text", "fontSize": 18}, "encoding": {
          "x": {"datum": 20780, "type": "quantitative", "axis": {"values": [0,5000,10000,15000,20000,25000], "format": "d", "title": "CAT (U/mL)  (N=52)", "titlePadding": 0}},
          "y": {"datum": 357, "type": "quantitative", "axis": {"values": [0,50,100,150,200,250,300,350], "format": "d", "title": "TBARS (ng/mL)  (N=52)", "titlePadding": 1}},
          "text": {"field": "t", "type": "nominal"}}},
        {"data": {"values": [{"t": "R=0,1462"}]}, "mark": {"type": "text", "fontSize": 18}, "encoding": {
          "x": {"datum": 20780, "type": "quantitative", "axis": {"values": [0,5000,10000,15000,20000,25000], "format": "d", "title": "CAT (U/mL)  (N=52)", "titlePadding": 0}},
          "y": {"datum": 327, "type": "quantitative", "axis": {"values": [0,50,100,150,200,250,300,350], "format": "d", "title": "TBARS (ng/mL)  (N=52)", "titlePadding": 1}},
          "text": {"field": "t", "type": "nominal"}}}
      ]
     }
    ]
   }
  ]
 }
]
}
